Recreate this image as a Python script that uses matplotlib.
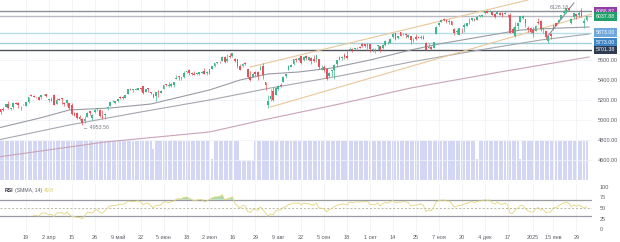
import numpy as np
import pandas as pd
import matplotlib
matplotlib.use("Agg")
import matplotlib.pyplot as plt
import matplotlib.transforms as mtrans

plt.rcParams['font.family'] = ['Liberation Sans', 'DejaVu Sans']

# S&P 500 daily candles, 4 Mar 2024 .. 4 Feb 2025
holidays = ['2024-03-29', '2024-05-27', '2024-06-19', '2024-07-04', '2024-09-02',
            '2024-11-28', '2024-12-25', '2025-01-01', '2025-01-09', '2025-01-20']
dates = pd.bdate_range('2024-03-04', '2025-02-04')
dates = dates[~dates.isin(pd.to_datetime(holidays))]

opens = [5130, 5110, 5109, 5132, 5164, 5112, 5134, 5174, 5175, 5124, 5154, 5140, 5181, 5253, 5243, 5219, 5228, 5226, 5248,
         5257, 5204, 5195, 5245, 5158, 5212, 5217, 5167, 5172, 5172, 5149, 5065, 5068, 5032, 5006, 4988, 5029, 5085, 5019, 5084, 5115, 5104,
         5029, 5049, 5123, 5143, 5187, 5173, 5189, 5226, 5234, 5221, 5263, 5311, 5303, 5305, 5299, 5320, 5341, 5282, 5316, 5279, 5259, 5244,
         5284, 5275, 5314, 5357, 5343, 5341, 5353, 5410, 5441, 5424, 5432, 5477, 5500, 5467, 5459, 5461, 5461, 5473, 5488,
         5471, 5461, 5507, 5537, 5572, 5584, 5591, 5635, 5590, 5638, 5644, 5610, 5608, 5543, 5545, 5566, 5505, 5429, 5434, 5476, 5478, 5505,
         5537, 5376, 5152, 5206, 5293, 5253, 5314, 5352, 5376, 5442, 5501, 5531, 5558, 5608, 5603, 5637, 5604, 5639, 5602, 5624, 5607, 5613,
         5612, 5506, 5530, 5507, 5443, 5490, 5496, 5557, 5603, 5616, 5655, 5641, 5703, 5709, 5711, 5727, 5733, 5762, 5755, 5727,
         5757, 5698, 5698, 5738, 5737, 5719, 5752, 5778, 5775, 5829, 5866, 5820, 5875, 5859, 5857, 5833, 5835, 5813, 5826, 5831, 5819, 5834, 5775,
         5724, 5725, 5722, 5864, 5947, 5977, 6008, 6004, 5985, 5990, 5913, 5877, 5853, 5924, 5935, 5945, 5992, 6000, 6015, 6004,
         6040, 6042, 6069, 6089, 6081, 6084, 6058, 6061, 6074, 6068, 6064, 6052, 6048, 5913, 5842, 5940, 5985, 6024, 6006, 5920, 5920,
         5903, 5891, 5982, 5993, 5910, 5890, 5791, 5859, 5905, 5966, 5980, 6015, 6069, 6081, 6121, 5970, 6027, 6058, 6050, 6097,
         5970, 5998]
highs = [5149, 5115, 5128, 5165, 5190, 5125, 5179, 5180, 5179, 5136, 5164, 5180, 5226, 5261, 5246, 5229, 5236, 5249, 5264,
         5263, 5208, 5230, 5256, 5223, 5219, 5224, 5179, 5211, 5175, 5169, 5079, 5077, 5046, 5020, 5038, 5076, 5089, 5057, 5114, 5124, 5111,
         5096, 5073, 5139, 5181, 5200, 5191, 5215, 5240, 5238, 5250, 5311, 5325, 5306, 5325, 5324, 5323, 5342, 5311, 5316, 5283, 5260, 5281,
         5302, 5299, 5354, 5362, 5376, 5366, 5376, 5448, 5442, 5433, 5489, 5490, 5506, 5479, 5490, 5472, 5484, 5490, 5524,
         5490, 5510, 5540, 5571, 5584, 5590, 5636, 5642, 5656, 5670, 5667, 5622, 5615, 5558, 5566, 5585, 5508, 5492, 5475, 5487, 5489, 5552,
         5566, 5383, 5250, 5312, 5331, 5326, 5351, 5372, 5436, 5464, 5547, 5563, 5609, 5620, 5633, 5643, 5642, 5651, 5631, 5628, 5646, 5651,
         5612, 5552, 5546, 5523, 5484, 5497, 5560, 5600, 5636, 5637, 5670, 5690, 5734, 5716, 5721, 5735, 5742, 5767, 5765, 5766,
         5758, 5720, 5718, 5753, 5739, 5757, 5796, 5795, 5822, 5871, 5871, 5844, 5879, 5870, 5867, 5863, 5842, 5818, 5863, 5843, 5848, 5851, 5781,
         5772, 5741, 5784, 5937, 5983, 6012, 6018, 6010, 6008, 5993, 5916, 5910, 5920, 5925, 5969, 5975, 6020, 6025, 6021, 6044,
         6053, 6054, 6089, 6099, 6099, 6088, 6066, 6092, 6080, 6079, 6086, 6058, 6071, 5935, 5982, 5978, 6041, 6049, 6006, 5941, 5929,
         5935, 5949, 6022, 6000, 5928, 5891, 5839, 5871, 5960, 5975, 6014, 6051, 6100, 6119, 6128, 6018, 6070, 6063, 6087, 6121,
         6023, 6043]
lows = [5127, 5056, 5092, 5128, 5114, 5102, 5115, 5161, 5118, 5105, 5147, 5137, 5172, 5240, 5229, 5216, 5203, 5214, 5246,
        5230, 5185, 5195, 5146, 5157, 5197, 5160, 5138, 5138, 5107, 5053, 5039, 5008, 4999, 4954, 4969, 5027, 5048, 5001, 5073, 5089, 5035,
        5013, 5011, 5101, 5142, 5181, 5165, 5180, 5211, 5211, 5218, 5263, 5296, 5283, 5299, 5298, 5286, 5256, 5278, 5279, 5262, 5222, 5191,
        5235, 5272, 5311, 5336, 5331, 5331, 5327, 5406, 5404, 5404, 5421, 5471, 5455, 5448, 5447, 5446, 5451, 5468, 5460,
        5452, 5460, 5507, 5534, 5563, 5574, 5586, 5571, 5584, 5620, 5632, 5584, 5523, 5497, 5527, 5550, 5424, 5390, 5433, 5445, 5403, 5497,
        5411, 5302, 5120, 5194, 5191, 5253, 5300, 5332, 5376, 5419, 5501, 5528, 5551, 5584, 5591, 5560, 5586, 5603, 5594, 5561, 5581, 5582,
        5507, 5504, 5485, 5403, 5434, 5441, 5406, 5535, 5601, 5603, 5614, 5615, 5703, 5676, 5703, 5704, 5718, 5728, 5730, 5704,
        5681, 5683, 5675, 5704, 5684, 5713, 5744, 5764, 5771, 5825, 5804, 5809, 5840, 5847, 5825, 5821, 5763, 5785, 5800, 5819, 5813, 5811, 5703,
        5723, 5696, 5722, 5864, 5944, 5977, 5986, 5970, 5965, 5947, 5853, 5858, 5850, 5868, 5884, 5945, 5963, 5993, 5994, 6004,
        6034, 6032, 6062, 6075, 6079, 6048, 6025, 6059, 6051, 6029, 6059, 6035, 5867, 5866, 5832, 5903, 5982, 6007, 5933, 5879, 5869,
        5834, 5888, 5960, 5890, 5874, 5809, 5773, 5806, 5905, 5936, 5978, 6007, 6062, 6075, 6089, 5962, 6011, 6013, 6028, 6031,
        5924, 5990]
closes = [5131, 5079, 5105, 5157, 5124, 5118, 5175, 5165, 5150, 5117, 5149, 5179, 5225, 5242, 5234, 5218, 5204, 5248, 5254,
          5244, 5206, 5211, 5147, 5204, 5202, 5210, 5161, 5199, 5123, 5062, 5051, 5022, 5011, 4967, 5011, 5071, 5072, 5048, 5100, 5116, 5036,
          5018, 5064, 5128, 5181, 5188, 5188, 5214, 5223, 5221, 5247, 5308, 5297, 5303, 5308, 5321, 5307, 5268, 5305, 5306, 5267, 5235, 5278,
          5283, 5291, 5354, 5353, 5347, 5361, 5375, 5421, 5434, 5432, 5473, 5487, 5473, 5465, 5448, 5469, 5478, 5483, 5460,
          5475, 5509, 5537, 5567, 5573, 5577, 5634, 5585, 5615, 5631, 5667, 5588, 5545, 5505, 5564, 5556, 5427, 5399, 5459, 5464, 5436, 5522,
          5447, 5347, 5186, 5240, 5200, 5319, 5344, 5344, 5434, 5455, 5543, 5554, 5608, 5597, 5621, 5571, 5635, 5617, 5626, 5592, 5592, 5648,
          5529, 5520, 5503, 5408, 5471, 5496, 5554, 5596, 5626, 5633, 5635, 5618, 5714, 5703, 5719, 5733, 5722, 5745, 5738, 5762,
          5709, 5710, 5700, 5751, 5696, 5751, 5792, 5780, 5815, 5860, 5815, 5842, 5841, 5865, 5854, 5851, 5797, 5810, 5808, 5824, 5833, 5814, 5705,
          5729, 5713, 5783, 5929, 5973, 5996, 6001, 5984, 5985, 5949, 5871, 5894, 5917, 5917, 5949, 5969, 5987, 6022, 5999, 6032,
          6047, 6050, 6086, 6075, 6090, 6053, 6035, 6084, 6051, 6051, 6074, 6051, 5872, 5867, 5931, 5974, 6040, 6038, 5971, 5907, 5882,
          5869, 5942, 5975, 5909, 5918, 5827, 5836, 5843, 5950, 5937, 5997, 6049, 6086, 6119, 6101, 6012, 6068, 6039, 6071, 6041,
          5995, 6038]
volumes = [100, 100, 100, 100, 100, 100, 100, 100, 100, 100, 100, 100, 100, 100, 100, 100, 100, 100, 100, 100,
           100, 100, 100, 100, 100, 100, 100, 100, 100, 100, 100, 100, 100, 100, 100, 100, 100, 100, 100, 100,
           100, 100, 100, 100, 100, 100, 100, 100, 100, 100, 100, 100, 100, 100, 100, 100, 100, 100, 100, 100,
           100, 80, 100, 100, 100, 100, 100, 100, 100, 100, 100, 100, 100, 100, 100, 100, 100, 100, 100, 100,
           100, 100, 100, 100, 55, 100, 100, 100, 100, 100, 100, 100, 100, 100, 100, 50, 50, 50, 50, 50,
           50, 100, 100, 100, 100, 100, 100, 100, 100, 100, 100, 100, 100, 100, 100, 100, 100, 100, 100, 100,
           100, 100, 100, 100, 100, 100, 100, 100, 100, 100, 100, 100, 100, 100, 100, 100, 100, 100, 100, 100,
           100, 100, 100, 100, 100, 100, 100, 100, 100, 100, 100, 100, 100, 100, 100, 100, 100, 100, 100, 100,
           100, 100, 100, 100, 100, 100, 100, 100, 100, 100, 100, 100, 100, 100, 100, 100, 100, 100, 100, 100,
           100, 100, 100, 100, 100, 100, 100, 100, 55, 100, 100, 100, 100, 100, 100, 100, 100, 100, 100, 100,
           100, 100, 100, 100, 100, 55, 100, 100, 100, 100, 100, 100, 100, 100, 100, 100, 100, 100, 100, 100,
           100, 100, 100, 100, 100, 100, 100, 100, 100, 100, 100, 100]

# moving averages (bar index, price)
ma_fast_x = [0, 16.5, 28, 44, 60, 83, 95, 106, 118, 131, 146, 162, 173, 189, 205, 221, 232]
ma_fast_y = [4920, 5020, 5100, 5120, 5160, 5300, 5400, 5460, 5480, 5520, 5600, 5700, 5760, 5830, 5900, 5920, 5930]
ma_slow_x = [0, 28, 56, 83, 107, 134, 162, 189, 213, 232]
ma_slow_y = [4800, 4950, 5080, 5200, 5320, 5440, 5580, 5700, 5800, 5860]
ma200_x = [0, 42, 83, 104, 134, 162, 197, 232]
ma200_y = [4630, 4780, 4880, 5000, 5160, 5320, 5480, 5630]

# drawn trend lines (bar index, price)
chan_top = ([99, 208], [5530, 6200])
chan_bot = ([107, 233], [5130, 6060])
jan_line = ([215.5, 226], [5830, 6170])

# horizontal levels with their axis tags
levels = [6086.87, 6037.88, 5873.00, 5773.00, 5701.38]
level_line = ['#8d9099', '#b8bbc3', '#b9dde6', '#9fd0dc', '#50535e']
level_tag = ['#8e3fa8', '#22a06b', '#6fa8dc', '#3d85c6', '#2f3b52']

tick_dates = ['2024-03-19', '2024-04-02', '2024-04-15', '2024-04-26', '2024-05-09', '2024-05-22',
              '2024-06-05', '2024-06-18', '2024-07-02', '2024-07-16', '2024-07-29', '2024-08-09',
              '2024-08-22', '2024-09-05', '2024-09-18', '2024-10-01', '2024-10-14', '2024-10-25',
              '2024-11-07', '2024-11-20', '2024-12-04', '2024-12-17', '2025-01-02', '2025-01-15', '2025-01-29']
tick_labels = ['19', '2 апр', '15', '26', '9 май', '22', '5 июн', '18', '2 июл', '16', '29', '9 авг',
               '22', '5 сен', '18', '1 окт', '14', '25', '7 ноя', '20', '4 дек', '17', '2025', '15 янв', '29']
price_ticks = [4600, 4800, 5000, 5200, 5400, 5600]
rsi_ticks = [0, 25, 50, 75, 100]

df = pd.DataFrame({'Open': opens, 'High': highs, 'Low': lows, 'Close': closes,
                   'Volume': volumes}, index=dates)
n = len(df)
idx = np.arange(n)
tick_pos = [df.index.get_loc(pd.Timestamp(d)) for d in tick_dates]

# RSI with SMMA (Wilder) smoothing, length 14
delta = df['Close'].diff()
up = delta.clip(lower=0).ewm(alpha=1/14, adjust=False, min_periods=14).mean()
down = (-delta.clip(upper=0)).ewm(alpha=1/14, adjust=False, min_periods=14).mean()
rsi = 100 - 100 / (1 + up / down)

W, H = 620, 242
fig = plt.figure(figsize=(W / 100, H / 100), dpi=100)
fig.patch.set_facecolor('white')
pw = 592 / W
axv = fig.add_axes([0, 62 / H, pw, 39 / H])
ax = fig.add_axes([0, 60 / H, pw, 182 / H])
axr = fig.add_axes([0, 10 / H, pw, 48 / H])
xl = (11 - 26 / 2.548, 11 + (592 - 26) / 2.548)
grid_c = '#f0f2f7'

# volume
axv.bar(idx, df['Volume'], width=0.8, color='#d3d7f3', linewidth=0)
axv.set_xlim(xl)
axv.set_ylim(0, 100)
axv.axis('off')

# price panel
ax.set_facecolor('none')
ax.set_xlim(xl)
ax.set_ylim(4380, 6200)
for p in tick_pos:
    ax.axvline(p, color=grid_c, lw=0.6, zorder=0)
for p in price_ticks:
    ax.axhline(p, color=grid_c, lw=0.6, zorder=0)

for y, c in zip(levels, level_line):
    ax.axhline(y, color=c, lw=1.0, zorder=1)

ax.plot(ma200_x, ma200_y, color='#c9a3b8', lw=0.8, zorder=2)
ax.plot(ma_slow_x, ma_slow_y, color='#a6a8b0', lw=0.8, zorder=2)
ax.plot(ma_fast_x, ma_fast_y, color='#9a9ca4', lw=0.8, zorder=2)
ax.plot(*chan_top, color='#e9c79a', lw=0.8, zorder=2)
ax.plot(*chan_bot, color='#e9c79a', lw=0.8, zorder=2)
ax.plot(*jan_line, color='#8d9099', lw=0.8, zorder=2)

col = np.where(df['Close'] >= df['Open'], '#3fb68b', '#e8505b')
ax.vlines(idx, df['Low'], df['High'], colors=col, lw=0.5, zorder=3)
body = (df['Close'] - df['Open']).abs().clip(lower=3)
ax.bar(idx, body, bottom=df[['Open', 'Close']].min(axis=1), width=0.7,
       color=col, linewidth=0, zorder=4)

ax.text(216.5, 6128, '6128.18', fontsize=3.8, color='#787b86', va='center', ha='left', zorder=5)
ax.text(33.5, 4953, '\u2190 4953.56', fontsize=3.8, color='#787b86', va='top', ha='left', zorder=5)

ax.yaxis.tick_right()
ax.set_yticks(price_ticks)
ax.set_yticklabels(['%.2f' % p for p in price_ticks])
ax.tick_params(axis='y', length=0, labelsize=4, labelcolor='#5d606b', pad=4.3)
ax.set_xticks([])
for s in ax.spines.values():
    s.set_visible(False)

tr = mtrans.blended_transform_factory(ax.transAxes, ax.transData)
for y, c in zip(levels, level_tag):
    ax.text(1.006, y, '%.2f' % y, transform=tr, fontsize=3.8, color='white',
            va='center', ha='left', clip_on=False,
            bbox=dict(boxstyle='square,pad=0.35', fc=c, ec='none'))

# RSI panel
axr.set_xlim(xl)
axr.set_ylim(-7.1, 107.1)
for p in tick_pos:
    axr.axvline(p, color=grid_c, lw=0.6, zorder=0)
axr.axhline(70, color='#9a9ca3', lw=0.9)
axr.axhline(30, color='#9a9ca3', lw=0.9)
axr.axhline(50, color='#b8b9a0', lw=0.7, ls=(0, (2, 2)))
axr.fill_between(idx, 70, rsi, where=rsi > 70, color='#a8dcaa', lw=0, interpolate=True)
axr.plot(idx, rsi, color='#e2d57a', lw=0.6)
axr.yaxis.tick_right()
axr.set_yticks(rsi_ticks)
axr.set_yticklabels([str(t) for t in rsi_ticks])
axr.tick_params(axis='y', length=0, labelsize=4, labelcolor='#5d606b', pad=5.8)
axr.set_xticks(tick_pos)
axr.set_xticklabels(tick_labels)
axr.tick_params(axis='x', length=0, labelsize=4, labelcolor='#5d606b', pad=5.2)
for lbl in axr.get_xticklabels():
    lbl.set_verticalalignment('baseline')
for s in axr.spines.values():
    s.set_visible(False)

axr.text(0.008, 0.86, 'RSI', transform=axr.transAxes, fontsize=3.7, color='#2a2e39',
         fontweight='bold', va='center')
axr.text(0.026, 0.86, '(SMMA, 14)', transform=axr.transAxes, fontsize=3.7, color='#5d606b', va='center')
axr.text(0.074, 0.86, '49.8', transform=axr.transAxes, fontsize=3.7, color='#d9c85a', va='center')

fig.savefig('out.png', dpi=100, facecolor='white')
